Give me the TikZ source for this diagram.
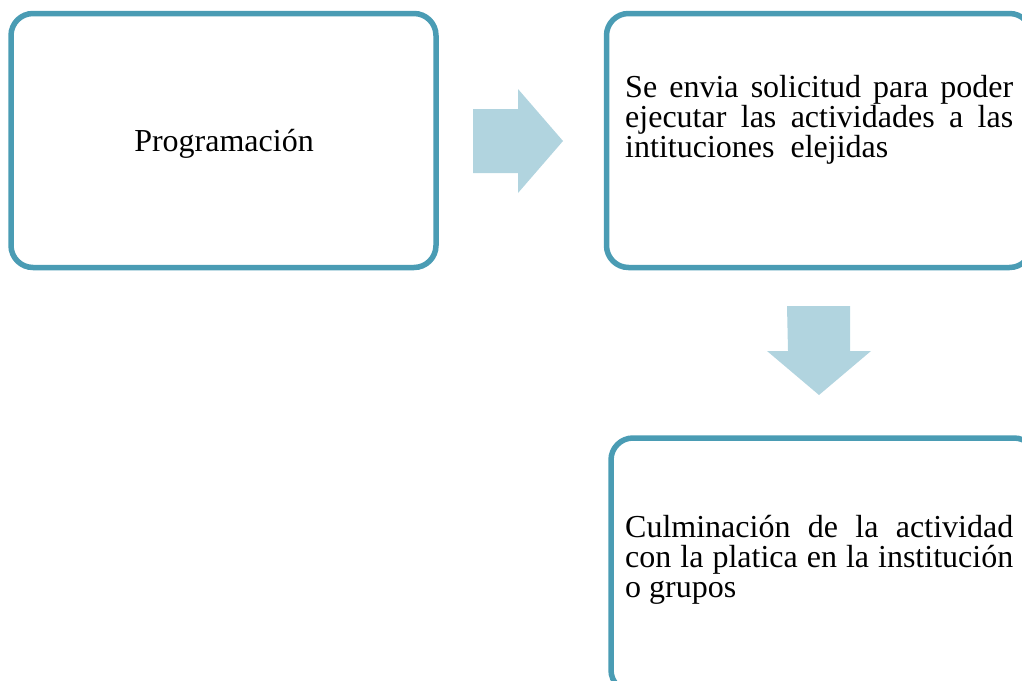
\documentclass[tikz,border=0pt]{standalone}
\usepackage{fontspec}
\setmainfont{Liberation Serif}
\definecolor{boxline}{RGB}{74,156,180}
\definecolor{arrowfill}{RGB}{177,212,223}
\hyphenpenalty=10000
\exhyphenpenalty=10000
\tolerance=9999
\begin{document}
\begin{tikzpicture}[x=1pt,y=-1pt,
  stepbox/.style={draw=boxline, line width=5.5pt, rounded corners=22pt,
    minimum width=425pt, minimum height=254pt, inner sep=0pt, fill=white},
  boxfont/.style={font=\fontsize{32}{30}\selectfont},
  boxtext/.style={boxfont, text width=388pt, align=justify, inner sep=0pt, anchor=base west},
  blockarrow/.style={fill=arrowfill, draw=none}]
\useasboundingbox (0,0) rectangle (1022,680);
% boxes
\node[stepbox] (b1) at (223.5,140.5) {};
\node[stepbox] (b2) at (819,140.5) {};
\node[stepbox] (b3) at (823.5,565) {};
% texts
\node[boxfont, inner sep=0pt, anchor=base] (t1) at (224,151) {Programación};
\node[boxtext] (t2) at (625,97) {Se envia solicitud para poder ejecutar las actividades a las intituciones\ \ elejidas};
\node[boxtext] (t3) at (625,537) {Culminación de la actividad con la platica en la institución o grupos};
% block arrows
\coordinate (a1) at (473,140.5);
\coordinate (a2) at (818.5,306);
\fill[blockarrow] (a1) ++(0,-31.5) -- ++(45,0) -- ++(0,-20) -- ++(45,52) -- ++(-45,52) -- ++(0,-20) -- ++(-45,0) -- cycle;
\fill[blockarrow] (a2) ++(-31.5,0) -- ++(63,0) -- ++(0,45) -- ++(21,0) -- ++(-52,44) -- ++(-52,-44) -- ++(21,0) -- cycle;
\end{tikzpicture}
\end{document}
